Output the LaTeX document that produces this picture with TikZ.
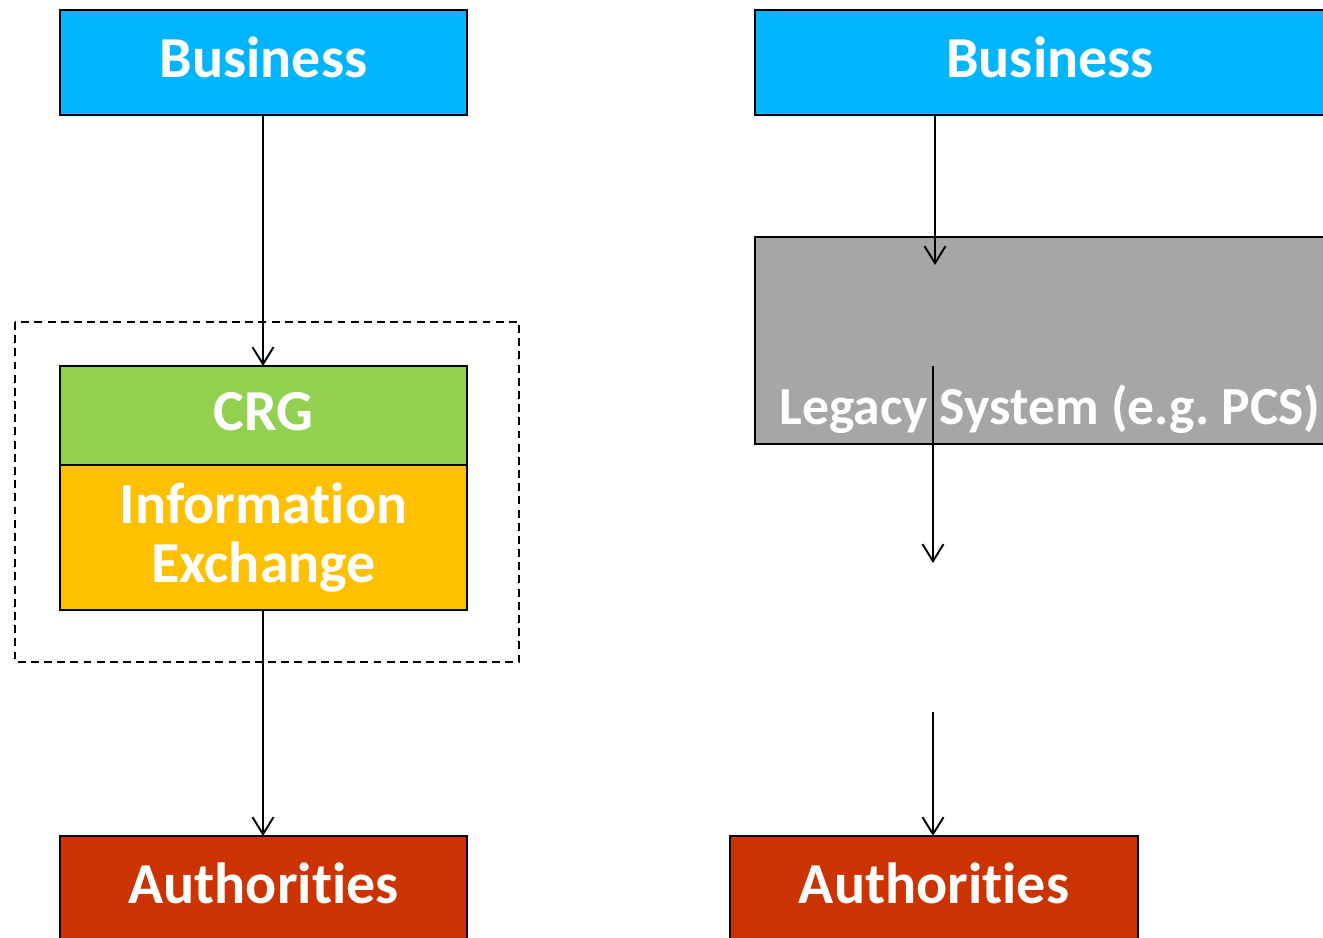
\documentclass[tikz,border=0pt]{standalone}
\usepackage{fontspec}
\setmainfont[Ligatures=NoCommon]{Carlito}
\usetikzlibrary{arrows.meta}
\tikzset{>={Straight Barb[length=3.4mm,width=4.2mm]}}
\definecolor{bizblue}{HTML}{00B5FF}
\definecolor{crggreen}{HTML}{92D050}
\definecolor{infoyellow}{HTML}{FFC000}
\definecolor{authred}{HTML}{CC3300}
\definecolor{legacygray}{HTML}{A6A6A6}
\tikzset{
  box/.style={draw=black,line width=1pt,inner sep=0pt,outer sep=0pt,
    text=white,font=\fontsize{33}{34}\selectfont\bfseries,align=center},
  oneline/.style={text height=22.4pt,text depth=5pt},
  conn/.style={line width=1.1pt,->},
}

\begin{document}
\begin{tikzpicture}[x=0.2mm,y=-0.2mm]
\clip (0,0) rectangle (1323,938);
% left column
\node[box,oneline,fill=bizblue,minimum width=81.4mm,minimum height=21mm] (lbiz) at (263.5,62.5) {Business};
\node[box,oneline,fill=crggreen,minimum width=81.4mm,minimum height=19.8mm] (crg) at (263.5,415.5) {CRG};
\node[box,fill=infoyellow,minimum width=81.4mm,minimum height=29mm] (info) at (263.5,537.5) {Information\\Exchange};
\node[box,oneline,fill=authred,minimum width=81.4mm,minimum height=20.8mm] (lauth) at (263.5,888) {Authorities};
\draw[line width=0.8pt,dash pattern=on 4.5pt off 3pt] (15,322) rectangle (519,662);
\coordinate (lx) at (263,0);
\draw[conn] (lbiz.south -| lx) -- (crg.north -| lx);
\draw[conn] (info.south -| lx) -- (lauth.north -| lx);
% right column
\node[box,oneline,fill=bizblue,minimum width=118mm,minimum height=21mm] (rbiz) at (1050,62.5) {Business};
\node[box,fill=legacygray,minimum width=118mm,minimum height=41.4mm] (legacy) at (1050,340.5) {};
\node[box,draw=none,anchor=base,font=\fontsize{30.5}{32}\selectfont\bfseries] (legtxt) at (1050,424) {Legacy System (e.g.\ PCS)};
\node[box,oneline,fill=authred,minimum width=81.6mm,minimum height=20.8mm] (rauth) at (934,888) {Authorities};
\coordinate (in1) at (935,265);
\coordinate (out1) at (933,366);
\coordinate (in2) at (933,563);
\coordinate (out2) at (933,712);
\draw[conn] (rbiz.south -| in1) -- (in1);
\draw[conn] (out1) -- (in2);
\draw[conn] (out2) -- (rauth.north -| out2);
\end{tikzpicture}
\end{document}
